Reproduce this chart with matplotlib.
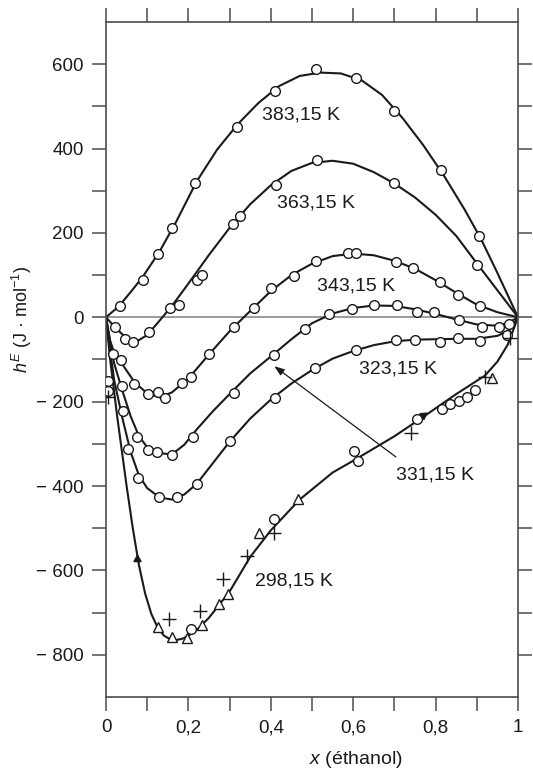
import numpy as np
import matplotlib
matplotlib.use('Agg')
import matplotlib.pyplot as plt

plt.rcParams['font.family'] = ['Liberation Sans', 'DejaVu Sans']
plt.rcParams['mathtext.fontset'] = 'custom'
plt.rcParams['mathtext.rm'] = 'Liberation Sans'
plt.rcParams['mathtext.it'] = 'Liberation Sans:italic'

# fitted curves
c383_x = [0, 0.03, 0.06, 0.09, 0.13, 0.17, 0.22, 0.27, 0.32, 0.37, 0.42, 0.47, 0.52, 0.57, 0.62, 0.67, 0.72, 0.77, 0.82, 0.87, 0.91, 0.95, 1]
c383_y = [0, 25, 60, 97, 156, 226, 322, 398, 458, 508, 548, 572, 580, 578, 562, 527, 472, 408, 336, 256, 186, 105, 0]

c363_x = [0, 0.02, 0.05, 0.075, 0.1, 0.13, 0.16, 0.2, 0.25, 0.3, 0.35, 0.4, 0.45, 0.5, 0.55, 0.6, 0.65, 0.7, 0.75, 0.8, 0.85, 0.9, 0.95, 1]
c363_y = [0, -22, -50, -57, -42, -8, 27, 80, 148, 212, 268, 313, 347, 366, 371, 364, 344, 317, 284, 243, 193, 128, 64, 0]

c343_x = [0, 0.01, 0.02, 0.04, 0.07, 0.1, 0.13, 0.16, 0.2, 0.25, 0.3, 0.35, 0.4, 0.45, 0.5, 0.55, 0.6, 0.65, 0.7, 0.75, 0.8, 0.85, 0.9, 0.95, 1]
c343_y = [0, -55, -85, -112, -155, -180, -190, -178, -145, -88, -33, 15, 62, 100, 127, 145, 151, 147, 134, 115, 88, 58, 30, 12, 0]

c331_x = [0, 0.01, 0.02, 0.04, 0.06, 0.08, 0.1, 0.13, 0.16, 0.19, 0.22, 0.26, 0.3, 0.35, 0.4, 0.45, 0.5, 0.55, 0.6, 0.65, 0.7, 0.75, 0.8, 0.85, 0.9, 0.95, 0.975, 1]
c331_y = [0, -60, -110, -175, -235, -282, -308, -322, -325, -302, -266, -222, -182, -133, -93, -52, -14, 9, 22, 28, 27, 19, 8, -5, -17, -20, -14, 0]

c323_x = [0, 0.01, 0.02, 0.04, 0.06, 0.08, 0.1, 0.13, 0.16, 0.19, 0.22, 0.26, 0.3, 0.35, 0.4, 0.45, 0.5, 0.55, 0.6, 0.65, 0.7, 0.75, 0.8, 0.85, 0.9, 0.95, 0.98, 1]
c323_y = [0, -80, -150, -240, -320, -375, -405, -427, -432, -420, -395, -345, -295, -240, -195, -157, -125, -98, -80, -66, -57, -53, -52, -51, -51, -44, -30, 0]

c298_x = [0, 0.01, 0.027, 0.05, 0.065, 0.08, 0.095, 0.11, 0.125, 0.14, 0.155, 0.17, 0.185, 0.2, 0.225, 0.25, 0.3, 0.35, 0.4, 0.47, 0.55, 0.6, 0.7, 0.77, 0.85, 0.92, 0.95, 0.975, 1]
c298_y = [0, -100, -234, -400, -500, -588, -655, -703, -735, -754, -763, -765, -762, -755, -737, -712, -650, -568, -505, -432, -368, -340, -282, -236, -182, -138, -105, -65, 0]

# measured points
p383_x = [0.034, 0.090, 0.127, 0.161, 0.217, 0.317, 0.410, 0.510, 0.607, 0.698, 0.812, 0.905]
p383_y = [26, 89, 150, 211, 319, 452, 537, 588, 567, 490, 349, 192]

p363_x = [0.022, 0.046, 0.066, 0.105, 0.156, 0.176, 0.222, 0.234, 0.307, 0.324, 0.412, 0.512, 0.700, 0.900]
p363_y = [-23, -52, -59, -35, 23, 28, 89, 101, 220, 239, 314, 373, 319, 124]

p343_x = [0.017, 0.037, 0.068, 0.102, 0.127, 0.144, 0.185, 0.207, 0.249, 0.31, 0.36, 0.40, 0.457, 0.51, 0.588, 0.607, 0.705, 0.746, 0.81, 0.855, 0.908]
p343_y = [-87, -101, -159, -183, -178, -192, -155, -141, -86, -23, 21, 70, 98, 134, 152, 152, 131, 117, 84, 52, 26]

p331_x = [0.004, 0.039, 0.076, 0.102, 0.124, 0.161, 0.212, 0.31, 0.407, 0.483, 0.541, 0.597, 0.651, 0.707, 0.756, 0.795, 0.856, 0.912, 0.953, 0.978]
p331_y = [-150, -164, -284, -315, -319, -326, -283, -180, -89, -28, 7, 19, 30, 28, 12, 12, -7, -23, -23, -16]

p323_x = [0.006, 0.041, 0.054, 0.078, 0.129, 0.173, 0.22, 0.302, 0.41, 0.507, 0.607, 0.705, 0.751, 0.81, 0.854, 0.907, 0.973]
p323_y = [-175, -223, -312, -380, -425, -425, -394, -293, -192, -120, -77, -54, -54, -59, -49, -56, -42]

p298_circ_x = [0.207, 0.408, 0.603, 0.612, 0.756, 0.815, 0.834, 0.856, 0.875, 0.895]
p298_circ_y = [-738, -477, -316, -340, -241, -218, -206, -198, -188, -172]
p298_tri_x = [0.127, 0.16, 0.197, 0.234, 0.274, 0.295, 0.371, 0.465, 0.937]
p298_tri_y = [-734, -757, -760, -729, -680, -656, -512, -430, -145]
p298_plus_x = [0.005, 0.152, 0.227, 0.285, 0.343, 0.408, 0.741, 0.92, 0.98]
p298_plus_y = [-190, -715, -697, -621, -567, -512, -274, -141, -50]

arrows_x = [0.075, 0.77]
arrows_y = [-574, -232]
arrow_angles = [0, -55]

labels = ['383,15 K', '363,15 K', '343,15 K', '323,15 K', '298,15 K']
label_x = [0.379, 0.415, 0.512, 0.614, 0.362]
label_y = [480, 272, 75, -122, -626]

x_ticks = [0, 0.2, 0.4, 0.6, 0.8, 1]
x_ticklabels = ['0', '0,2', '0,4', '0,6', '0,8', '1']
y_ticks = [-800, -600, -400, -200, 0, 200, 400, 600]
y_ticklabels = ['\u2212 800', '\u2212 600', '\u2212 400', '\u2212 200', '0', '200', '400', '600']

ink = '#1a1a1a'
fig = plt.figure(figsize=(5.33, 7.71), dpi=100)
ax = fig.add_axes([0.1989, 0.0960, 0.7730, 0.8755])

ax.axhline(0, color='0.5', lw=1.1, zorder=1)

for cx, cy in [(c383_x, c383_y), (c363_x, c363_y), (c343_x, c343_y),
               (c331_x, c331_y), (c323_x, c323_y), (c298_x, c298_y)]:
    ax.plot(cx, cy, color=ink, lw=1.5, zorder=2, solid_joinstyle='round')

circ = dict(ls='none', marker='o', ms=7, mfc='white', mec=ink, mew=1.0, zorder=3)
for px, py in [(p383_x, p383_y), (p363_x, p363_y), (p343_x, p343_y),
               (p331_x, p331_y), (p323_x, p323_y), (p298_circ_x, p298_circ_y)]:
    ax.plot(px, py, **circ)
ax.plot(p298_tri_x, p298_tri_y, ls='none', marker='^', ms=7.5, mfc='white', mec=ink, mew=1.0, zorder=3)
ax.plot(p298_plus_x, p298_plus_y, ls='none', marker='+', ms=10, mec=ink, mew=1.0, zorder=3)

for xa, ya, ang in zip(arrows_x, arrows_y, arrow_angles):
    ax.plot(xa, ya, ls='none', marker=(3, 0, ang), ms=6, color=ink, zorder=4)

for t, lx, ly in zip(labels, label_x, label_y):
    ax.text(lx, ly, t, fontsize=14, color=ink, ha='left', va='center')

ax.annotate('', xy=(0.403, -112), xytext=(0.709, -335),
            arrowprops=dict(arrowstyle='-|>,head_length=0.6,head_width=0.22', color=ink, lw=0.9))
ax.text(0.704, -375, '331,15 K', fontsize=14, color=ink, ha='left', va='center')

ax.set_xlim(0, 1)
ax.set_ylim(-900, 700)
ax.set_xticks(x_ticks)
ax.set_xticklabels(x_ticklabels)
ax.set_xticks(np.arange(0.1, 1.0, 0.2), minor=True)
ax.set_yticks(y_ticks)
ax.set_yticklabels(y_ticklabels)
ax.set_yticks(np.arange(-700, 700, 200), minor=True)

ax.tick_params(which='both', direction='out', length=10, width=1.1, color='0.3',
               top=True, right=True, labelsize=13.5, labelcolor=ink, pad=6)
for s in ax.spines.values():
    s.set_color('0.3')
    s.set_linewidth(1.2)

fig.text(356 / 533, 1 - 760 / 771, '$x$ (éthanol)', fontsize=14, color=ink, ha='center', va='center')
fig.text(22 / 533, 1 - 319 / 771, '$h^E$ (J · mol$^{-1}$)', fontsize=13, color=ink,
         ha='center', va='center', rotation=90)

fig.savefig('out.png', dpi=100)
